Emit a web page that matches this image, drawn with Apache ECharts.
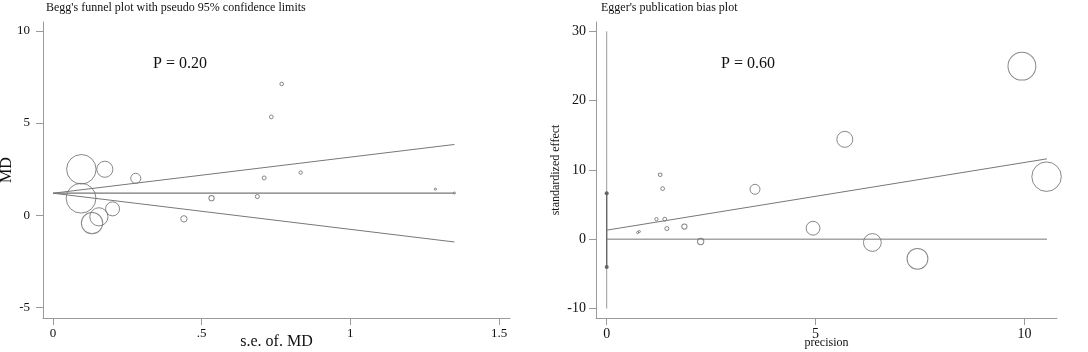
<!DOCTYPE html>
<html>
<head>
<meta charset="utf-8">
<script src="https://cdn.jsdelivr.net/npm/echarts@6/dist/echarts.min.js"></script>
<style>
  html, body { margin: 0; padding: 0; background: #fff; }
  #main { width: 1088px; height: 352px; }
</style>
</head>
<body>
<div id="main"></div>
<script>
(function(){
    'use strict';

    // Begg: standard error and MD of each study
    var beggSE = [0.095, 0.094, 0.174, 0.278, 0.200, 0.154, 0.131, 0.440, 0.533, 0.687, 0.710, 0.734, 0.769, 0.833, 1.286, 1.350];
    var beggMD = [2.49, 0.92, 2.49, 2.00, 0.34, -0.09, -0.43, -0.20, 0.92, 1.01, 2.02, 5.33, 7.12, 2.31, 1.41, 1.20];
    var beggPooled = 1.19;
    var beggSEmax = 1.35;
    var beggXTicks = [0, 0.5, 1, 1.5];
    var beggXLabels = ['0', '.5', '1', '1.5'];
    var beggYTicks = [-5, 0, 5, 10];

    // Egger: precision and standardized effect
    var eggPrec = [9.94, 10.53, 5.70, 3.55, 4.94, 6.36, 7.44, 2.25, 1.86, 1.44, 1.39, 1.19, 1.34, 1.28, 0.78, 0.74];
    var eggStd  = [24.97, 9.02, 14.41, 7.20, 1.58, -0.48, -2.84, -0.34, 1.82, 1.53, 2.88, 2.88, 7.30, 9.31, 1.10, 0.95];
    var eggIntercept = 1.30;
    var eggSlope = 0.977;
    var eggPrecMax = 10.54;
    var eggIntCI = [-4.03, 6.63];
    var eggXTicks = [0, 5, 10];
    var eggYTicks = [-10, 0, 10, 20, 30];

    var serif = '"Liberation Serif", "DejaVu Serif", serif';
    var axisGray = '#9a9a9a';
    var markGray = '#6a6a6a';

    function zip(a, b) {
        return a.map(function (v, i) { return [v, b[i]]; });
    }

    function axisCommon(ticks, labels, fs, margin) {
        return {
            nameMoveOverlap: false,
            axisLine: { show: true, onZero: false, lineStyle: { color: axisGray, width: 1 } },
            axisTick: { show: true, length: 7, customValues: ticks, lineStyle: { color: axisGray } },
            axisLabel: {
                customValues: ticks,
                margin: margin,
                color: '#111',
                fontFamily: serif,
                fontSize: fs,
                formatter: function (v) {
                    if (labels) {
                        var i = ticks.indexOf(+v);
                        return i >= 0 ? labels[i] : '';
                    }
                    return String(v);
                }
            },
            splitLine: { show: false }
        };
    }

    var myChart = echarts.init(document.getElementById('main'));

    var beggSlopeLine = 1.96;
    var option = {
        animation: false,
        title: [
            { text: "Begg's funnel plot with pseudo 95% confidence limits", left: 41, top: -3,
              textStyle: { fontFamily: serif, fontSize: 12, fontWeight: 'normal', color: '#111' } },
            { text: "Egger's publication bias plot", left: 596, top: -3,
              textStyle: { fontFamily: serif, fontSize: 12, fontWeight: 'normal', color: '#111' } },
            { text: 'P = 0.20', left: 148, top: 51,
              textStyle: { fontFamily: serif, fontSize: 16, fontWeight: 'normal', color: '#111' } },
            { text: 'P = 0.60', left: 716, top: 51,
              textStyle: { fontFamily: serif, fontSize: 16, fontWeight: 'normal', color: '#111' } }
        ],
        grid: [
            { left: 43, top: 22, width: 467, height: 296, outerBoundsMode: 'none', containLabel: false },
            { left: 596, top: 22, width: 461, height: 296, outerBoundsMode: 'none', containLabel: false }
        ],
        xAxis: [
            Object.assign({
                type: 'value', gridIndex: 0, min: -0.034, max: 1.537,
                name: 's.e. of. MD', nameLocation: 'middle', nameGap: 16,
                nameTextStyle: { fontFamily: serif, fontSize: 16, color: '#111' }
            }, axisCommon(beggXTicks, beggXLabels, 13, 9)),
            Object.assign({
                type: 'value', gridIndex: 1, min: -0.256, max: 10.78,
                name: 'precision', nameLocation: 'middle', nameGap: 19,
                nameTextStyle: { fontFamily: serif, fontSize: 12, color: '#111' }
            }, axisCommon(eggXTicks, null, 14, 9))
        ],
        yAxis: [
            Object.assign({
                type: 'value', gridIndex: 0, min: -5.58, max: 10.48,
                name: 'MD', nameLocation: 'middle', nameGap: 28,
                nameTextStyle: { fontFamily: serif, fontSize: 16, color: '#111' }
            }, axisCommon(beggYTicks, null, 13, 13)),
            Object.assign({
                type: 'value', gridIndex: 1, min: -11.38, max: 31.35,
                name: 'standardized effect', nameLocation: 'middle', nameGap: 34,
                nameTextStyle: { fontFamily: serif, fontSize: 12, color: '#111' }
            }, axisCommon(eggYTicks, null, 14, 10))
        ],
        series: [
            {
                type: 'line', xAxisIndex: 0, yAxisIndex: 0, symbol: 'none', silent: true,
                lineStyle: { color: '#777', width: 1 },
                data: [[0, beggPooled], [beggSEmax, beggPooled + beggSlopeLine * beggSEmax]]
            },
            {
                type: 'line', xAxisIndex: 0, yAxisIndex: 0, symbol: 'none', silent: true,
                lineStyle: { color: '#777', width: 1 },
                data: [[0, beggPooled], [beggSEmax, beggPooled - beggSlopeLine * beggSEmax]]
            },
            {
                type: 'line', xAxisIndex: 0, yAxisIndex: 0, symbol: 'none', silent: true,
                lineStyle: { color: '#777', width: 1.3 },
                data: [[0, beggPooled], [beggSEmax, beggPooled]]
            },
            {
                name: 'Begg', type: 'scatter', xAxisIndex: 0, yAxisIndex: 0,
                symbol: 'circle',
                symbolSize: function (d) { return 2.8 / d[0]; },
                itemStyle: { color: 'rgba(0,0,0,0)', borderColor: markGray, borderWidth: 1 },
                data: zip(beggSE, beggMD)
            },
            // Egger reference lines
            {
                type: 'line', xAxisIndex: 1, yAxisIndex: 1, symbol: 'none', silent: true,
                lineStyle: { color: '#999', width: 1 },
                data: [[0, eggYTicks[0]], [0, eggYTicks[eggYTicks.length - 1]]]
            },
            {
                type: 'line', xAxisIndex: 1, yAxisIndex: 1, silent: true,
                symbol: 'circle', symbolSize: 4,
                itemStyle: { color: '#666' },
                lineStyle: { color: '#666', width: 1.3 },
                data: [[0, eggIntCI[0]], [0, eggIntCI[1]]]
            },
            {
                type: 'line', xAxisIndex: 1, yAxisIndex: 1, symbol: 'none', silent: true,
                lineStyle: { color: '#777', width: 1 },
                data: [[0, 0], [eggPrecMax, 0]]
            },
            {
                type: 'line', xAxisIndex: 1, yAxisIndex: 1, symbol: 'none', silent: true,
                lineStyle: { color: '#777', width: 1 },
                data: [[0, eggIntercept], [eggPrecMax, eggIntercept + eggSlope * eggPrecMax]]
            },
            {
                name: 'Egger', type: 'scatter', xAxisIndex: 1, yAxisIndex: 1,
                symbol: 'circle',
                symbolSize: function (d) { return 2.8 * d[0]; },
                itemStyle: { color: 'rgba(0,0,0,0)', borderColor: markGray, borderWidth: 1 },
                data: zip(eggPrec, eggStd)
            }
        ]
    };

    myChart.setOption(option);
}());
</script>
</body>
</html>
